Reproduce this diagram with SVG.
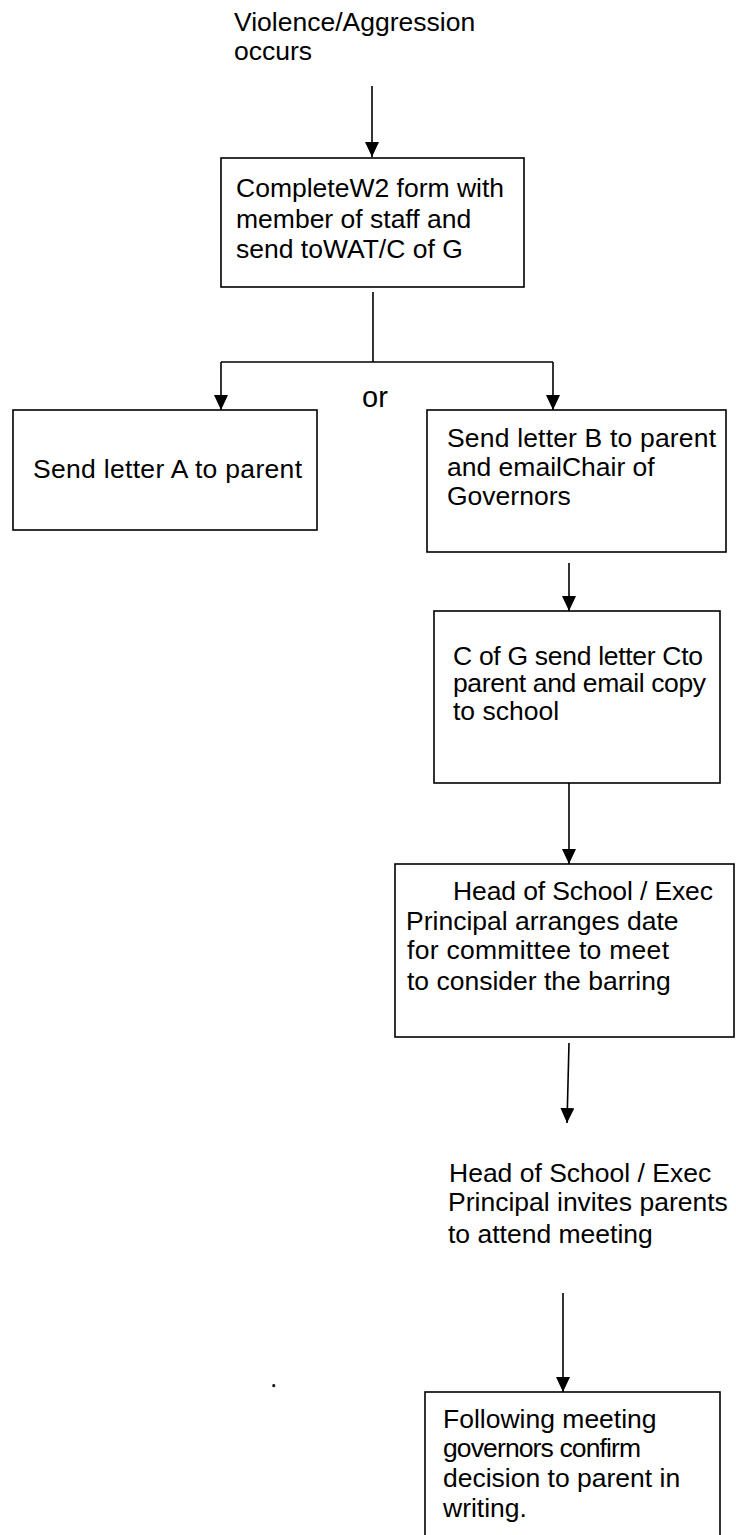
<svg xmlns="http://www.w3.org/2000/svg" width="736" height="1535" viewBox="0 0 736 1535">
<style>
.t{font-family:"Liberation Sans",Arial,sans-serif;font-size:26.5px;fill:#000}
.box{fill:#fff;stroke:#000;stroke-width:1.6}
.ln{fill:none;stroke:#000;stroke-width:1.6}
</style>
<defs>
<marker id="ar" markerUnits="userSpaceOnUse" markerWidth="16" markerHeight="14" refX="15" refY="7" orient="auto" viewBox="0 0 16 14">
<path d="M0,0 L15,7 L0,14 Z" fill="#000"/>
</marker>
</defs>
<rect width="736" height="1535" fill="#fff"/>
<g id="connectors">
<line class="ln" x1="372" y1="86" x2="372" y2="157" marker-end="url(#ar)"/>
<line class="ln" x1="373" y1="292" x2="373" y2="362"/>
<line class="ln" x1="221" y1="362" x2="553" y2="362"/>
<line class="ln" x1="221" y1="362" x2="221" y2="410" marker-end="url(#ar)"/>
<line class="ln" x1="553" y1="362" x2="553" y2="410" marker-end="url(#ar)"/>
<line class="ln" x1="569" y1="563" x2="569" y2="611" marker-end="url(#ar)"/>
<line class="ln" x1="569" y1="783" x2="569" y2="864" marker-end="url(#ar)"/>
<line class="ln" x1="569" y1="1043" x2="567" y2="1123" marker-end="url(#ar)"/>
<line class="ln" x1="563" y1="1293" x2="563" y2="1392" marker-end="url(#ar)"/>
</g>
<g id="start">
<text class="t" x="234" y="31">Violence/Aggression</text>
<text class="t" x="234" y="60">occurs</text>
</g>
<g id="complete-w2">
<rect class="box" x="221" y="158" width="303" height="129"/>
<text class="t" x="236" y="197">CompleteW2 form with</text>
<text class="t" x="236" y="228">member of staff and</text>
<text class="t" x="236" y="258">send toWAT/C of G</text>
</g>
<g id="or-label">
<text class="t" x="362" y="407" style="font-size:29px">or</text>
</g>
<g id="letter-a">
<rect class="box" x="13" y="410" width="304" height="120"/>
<text class="t" x="33" y="478" textLength="269">Send letter A to parent</text>
</g>
<g id="letter-b">
<rect class="box" x="427" y="410" width="299" height="142"/>
<text class="t" x="447" y="447" textLength="269">Send letter B to parent</text>
<text class="t" x="447" y="476">and emailChair of</text>
<text class="t" x="447" y="505">Governors</text>
</g>
<g id="letter-c">
<rect class="box" x="434" y="611" width="286" height="172"/>
<text class="t" x="453" y="665" textLength="250">C of G send letter Cto</text>
<text class="t" x="453" y="692" textLength="253">parent and email copy</text>
<text class="t" x="453" y="720">to school</text>
</g>
<g id="arrange-date">
<rect class="box" x="395" y="864" width="339" height="173"/>
<text class="t" x="453" y="900" textLength="260">Head of School / Exec</text>
<text class="t" x="406" y="930">Principal arranges date</text>
<text class="t" x="407" y="959" textLength="262">for committee to meet</text>
<text class="t" x="407" y="990">to consider the barring</text>
</g>
<g id="invite">
<text class="t" x="449" y="1182">Head of School / Exec</text>
<text class="t" x="448" y="1211">Principal invites parents</text>
<text class="t" x="448" y="1243">to attend meeting</text>
</g>
<g id="dot">
<text class="t" x="270" y="1387">.</text>
</g>
<g id="confirm">
<rect class="box" x="425" y="1392" width="295" height="160"/>
<text class="t" x="443" y="1428">Following meeting</text>
<text class="t" x="443" y="1457" textLength="198">governors confirm</text>
<text class="t" x="443" y="1487">decision to parent in</text>
<text class="t" x="443" y="1517">writing.</text>
</g>
</svg>
